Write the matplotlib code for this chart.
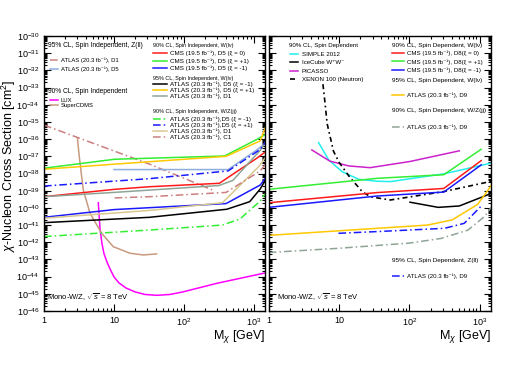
import numpy as np
import matplotlib
matplotlib.use("Agg")
import matplotlib.pyplot as plt
from matplotlib import ticker
from matplotlib.legend import Legend

plt.rcParams['font.family'] = ['Liberation Sans', 'DejaVu Sans']
plt.rcParams['mathtext.fontset'] = 'custom'
plt.rcParams['mathtext.rm'] = 'Liberation Sans'
plt.rcParams['mathtext.it'] = 'Liberation Sans:italic'

# ---- spin independent (left panel): mass [GeV], log10(sigma [cm^2]) ----
si_zll_d1_m = [1, 32, 257]
si_zll_d1_s = [-35.18, -37.45, -38.96]
si_zll_d5_m = [10, 427, 1100, 1500]
si_zll_d5_s = [-37.77, -37.77, -36.63, -36.2]

lux_m = [5.97, 6.31, 6.74, 7.2, 7.94, 8.77, 10.0, 11.8, 14.8, 19.95, 27.7, 41.1, 63.1, 96.8, 296, 1436]
lux_s = [-39.70, -41.22, -42.09, -42.67, -43.15, -43.55, -44.02, -44.37, -44.66, -44.89,
         -45.04, -45.09, -45.04, -44.89, -44.39, -43.79]
cdms_m = [3.0, 3.19, 3.64, 4.54, 5.36, 6.67, 9.77, 16.9, 26.2, 40.7]
cdms_s = [-35.95, -37.02, -38.96, -40.31, -40.82, -41.48, -42.26, -42.64, -42.74, -42.68]

cms_d5_red_m = [1, 10.2, 32, 320, 1100, 1500]
cms_d5_red_s = [-39.35, -38.92, -38.77, -38.57, -37.11, -36.7]
cms_d5_grn_m = [1, 10.2, 380, 1120, 1500]
cms_d5_grn_s = [-37.69, -37.17, -36.98, -36.0, -35.7]
cms_d5_blu_m = [1, 10, 400, 1230, 1500]
cms_d5_blu_s = [-40.55, -40.1, -39.75, -38.67, -38.2]

atl_d5_blk_m = [1, 32, 410, 870, 1230, 1500]
atl_d5_blk_s = [-40.86, -40.55, -40.08, -39.64, -38.9, -38.3]
atl_d5_gld_m = [1, 10.7, 400, 1230, 1500]
atl_d5_gld_s = [-37.75, -37.45, -37.0, -36.1, -35.2]
atl_d1_gry_m = [1, 10, 316, 500, 1230, 1500]
atl_d1_gry_s = [-39.35, -39.1, -38.7, -38.4, -36.65, -36.1]

jj_d5_grn_m = [1, 32, 355, 630, 1230, 1500]
jj_d5_grn_s = [-41.67, -41.29, -41.0, -40.65, -39.6, -39.1]
jj_d5_blu_m = [1, 32, 427, 1230, 1500]
jj_d5_blu_s = [-38.73, -38.3, -37.85, -36.6, -36.1]
jj_d1_m = [1, 32, 355, 1170, 1500]
jj_d1_s = [-40.6, -40.15, -39.7, -37.6, -37.0]
jj_c1_m = [10.2, 32, 400, 1230, 1500]
jj_c1_s = [-39.42, -39.35, -39.1, -37.85, -37.4]

# ---- spin dependent (right panel) ----
simple_m = [5.1, 7.13, 11.0, 19.1, 34.7, 53.7, 309, 1550]
simple_s = [-36.2, -37.21, -37.89, -38.34, -38.45, -38.47, -38.02, -37.37]
icecube_m = [102, 257, 513, 1480]
icecube_s = [-39.67, -39.97, -39.89, -39.15]
picasso_m = [4.1, 7.4, 13.8, 27.5, 102, 513]
picasso_s = [-36.63, -37.28, -37.56, -37.66, -37.3, -36.68]
xenon_m = [5.89, 6.31, 6.76, 8.32, 10, 14.1, 21.4, 28.2, 53.7, 309, 1480]
xenon_s = [-32.8, -33.9, -35.1, -36.7, -37.35, -38.2, -39.06, -39.36, -39.54, -39.05, -38.45]

cms_d8_m = [1, 34.7, 309, 1050]
cms_d8_grn_s = [-38.92, -38.28, -38.07, -36.59]
cms_d8_red_s = [-39.70, -39.11, -38.87, -37.25]
cms_d8_blu_s = [-39.97, -39.31, -39.08, -37.5]

atl_d9_lv_m = [1, 34.7, 182, 407, 933, 1380, 1500]
atl_d9_lv_s = [-41.6, -41.19, -41.0, -40.7, -39.8, -38.85, -38.6]
atl_d9_jj_m = [1, 10, 100, 282, 676, 1175, 1500]
atl_d9_jj_s = [-42.6, -42.35, -42.05, -41.78, -41.3, -40.5, -39.9]
atl_d9_zll_m = [9.8, 34.7, 316, 603, 1050]
atl_d9_zll_s = [-41.48, -41.38, -41.19, -40.9, -39.9]

xtick_labels = {1: '1', 10: '10', 100: '$10^{2}$', 1000: '$10^{3}$'}

RED, GRN, BLU = '#ff1a1a', '#33ee33', '#1a1aff'
GOLD, GREY, KHAKI = '#ffc800', '#8ea596', '#d8c890'
ROSY, LBLUE, TAN = '#cc7f7f', '#8eaede', '#c89a7e'
DD = (0, (5, 2, 1, 2))
LW = 1.1


def curve(ax, m, s, color, ls='-', lw=LW):
    return ax.plot(m, 10.0 ** np.array(s), color=color, ls=ls, lw=lw)[0]


def title(ax, x, y, txt, fs):
    ax.text(x, y, txt, transform=ax.transAxes, fontsize=fs, va='center', ha='left')


def legend(ax, handles, labels, x, y, fs, hl, sp):
    leg = Legend(ax, handles, labels, loc='upper left', bbox_to_anchor=(x, y),
                 frameon=False, fontsize=fs, handlelength=hl, handletextpad=0.5,
                 labelspacing=sp, borderpad=0, borderaxespad=0)
    ax.add_artist(leg)


def style(ax):
    ax.set_xscale('log')
    ax.set_yscale('log')
    ax.set_xlim(1, 1450)
    ax.set_ylim(1e-46, 1e-30)
    ax.yaxis.set_major_locator(ticker.LogLocator(base=10, numticks=40))
    ax.yaxis.set_minor_locator(ticker.LogLocator(base=10, subs=np.arange(2, 10) * 1.0, numticks=400))
    ax.xaxis.set_major_locator(ticker.FixedLocator([1, 10, 100, 1000]))
    ax.xaxis.set_minor_locator(ticker.LogLocator(base=10, subs=np.arange(2, 10) * 1.0, numticks=100))
    ax.xaxis.set_major_formatter(ticker.FuncFormatter(lambda v, p: xtick_labels.get(int(round(v)), '')))
    ax.xaxis.set_minor_formatter(ticker.NullFormatter())
    ax.tick_params(which='both', direction='in', top=True, right=True, labelsize=6.5, width=0.8)
    ax.tick_params(which='major', length=5)
    ax.tick_params(which='minor', length=2.5)
    for sp in ax.spines.values():
        sp.set_linewidth(1.0)
    ax.set_xlabel(r'M$_\chi$ [GeV]', fontsize=9, loc='right', labelpad=0)


fig = plt.figure(figsize=(5.12, 3.68), dpi=100)
axl = fig.add_axes([0.086, 0.155, 0.432, 0.747])
axr = fig.add_axes([0.525, 0.155, 0.434, 0.747])
style(axl)
style(axr)
axr.tick_params(labelleft=False)
axl.set_ylabel(r'$\chi$-Nucleon Cross Section [cm$^2$]', fontsize=9)
axl.yaxis.set_label_coords(-0.118, 0.53)

# left panel curves
h_zd1 = curve(axl, si_zll_d1_m, si_zll_d1_s, ROSY, DD)
h_zd5 = curve(axl, si_zll_d5_m, si_zll_d5_s, LBLUE)
h_lux = curve(axl, lux_m, lux_s, '#ff00ff')
h_cdms = curve(axl, cdms_m, cdms_s, TAN)
h_cr = curve(axl, cms_d5_red_m, cms_d5_red_s, RED)
h_cg = curve(axl, cms_d5_grn_m, cms_d5_grn_s, GRN)
h_cb = curve(axl, cms_d5_blu_m, cms_d5_blu_s, BLU)
h_ak = curve(axl, atl_d5_blk_m, atl_d5_blk_s, 'black')
h_ay = curve(axl, atl_d5_gld_m, atl_d5_gld_s, GOLD)
h_ag = curve(axl, atl_d1_gry_m, atl_d1_gry_s, GREY)
h_jg = curve(axl, jj_d5_grn_m, jj_d5_grn_s, GRN, DD)
h_jb = curve(axl, jj_d5_blu_m, jj_d5_blu_s, BLU, DD)
h_jd1 = curve(axl, jj_d1_m, jj_d1_s, KHAKI)
h_jc1 = curve(axl, jj_c1_m, jj_c1_s, ROSY, DD)

title(axl, 0.018, 0.964, '95% CL, Spin Independent, Z(ll)', 4.8)
legend(axl, [h_zd1, h_zd5], ['ATLAS (20.3 fb⁻¹), D1', 'ATLAS (20.3 fb⁻¹), D5'],
       0.027, 0.922, 4.2, 1.3, 0.57)
title(axl, 0.018, 0.80, '90% CL, Spin Independent', 4.8)
legend(axl, [h_lux, h_cdms], ['LUX', 'SuperCDMS'], 0.027, 0.776, 4.2, 1.3, 0.05)
title(axl, 0.493, 0.964, '90% CL, Spin Independent, W(lν)', 3.9)
legend(axl, [h_cr, h_cg, h_cb],
       ['CMS (19.5 fb⁻¹), D5 (ξ = 0)', 'CMS (19.5 fb⁻¹), D5 (ξ = +1)', 'CMS (19.5 fb⁻¹), D5 (ξ = -1)'],
       0.493, 0.946, 4.5, 2.2, 0.3)
title(axl, 0.493, 0.847, '95% CL, Spin Independent, W(lν)', 3.9)
legend(axl, [h_ak, h_ay, h_ag],
       ['ATLAS (20.3 fb⁻¹), D5 (ξ = -1)', 'ATLAS (20.3 fb⁻¹), D5 (ξ = +1)', 'ATLAS (20.3 fb⁻¹), D1'],
       0.493, 0.835, 4.5, 2.2, 0.08)
title(axl, 0.493, 0.727, '90% CL, Spin Independent, W/Z(jj)', 3.9)
legend(axl, [h_jg, h_jb, h_jd1, h_jc1],
       ['ATLAS (20.3 fb⁻¹),D5 (ξ = -1)', 'ATLAS (20.3 fb⁻¹),D5 (ξ = +1)',
        'ATLAS (20.3 fb⁻¹), D1', 'ATLAS (20.3 fb⁻¹), C1'], 0.493, 0.708, 4.5, 2.2, 0.08)
axl.text(0.015, 0.05, r'Mono-W/Z, $\sqrt{s}$ = 8 TeV', transform=axl.transAxes, fontsize=5.5, va='center')

# right panel curves
h_simple = curve(axr, simple_m, simple_s, '#22eeee')
h_ice = curve(axr, icecube_m, icecube_s, 'black')
h_pic = curve(axr, picasso_m, picasso_s, '#cc22cc')
h_xen = curve(axr, xenon_m, xenon_s, 'black', (0, (3, 2, 1, 2)), 1.2)
h_dr = curve(axr, cms_d8_m, cms_d8_red_s, RED)
h_dg = curve(axr, cms_d8_m, cms_d8_grn_s, GRN)
h_db = curve(axr, cms_d8_m, cms_d8_blu_s, BLU)
h_d9lv = curve(axr, atl_d9_lv_m, atl_d9_lv_s, GOLD)
h_d9jj = curve(axr, atl_d9_jj_m, atl_d9_jj_s, GREY, DD)
h_d9z = curve(axr, atl_d9_zll_m, atl_d9_zll_s, BLU, DD)

title(axr, 0.09, 0.967, '90% CL, Spin Dependent', 4.4)
legend(axr, [h_simple, h_ice, h_pic, h_xen],
       ['SIMPLE 2012', 'IceCube W⁺W⁻', 'PICASSO', 'XENON 100 (Neutron)'],
       0.095, 0.944, 4.4, 1.4, 0.54)
title(axr, 0.554, 0.967, '90% CL, Spin Dependent, W(lν)', 4.6)
legend(axr, [h_dr, h_dg, h_db],
       ['CMS (19.5 fb⁻¹), D8(ξ = 0)', 'CMS (19.5 fb⁻¹), D8(ξ = +1)', 'CMS (19.5 fb⁻¹), D8(ξ = -1)'],
       0.554, 0.947, 4.4, 1.9, 0.49)
title(axr, 0.554, 0.84, '95% CL, Spin Dependent, W(lν)', 4.6)
legend(axr, [h_d9lv], ['ATLAS (20.3 fb⁻¹), D9'], 0.554, 0.795, 4.4, 1.9, 0.1)
title(axr, 0.554, 0.731, '90% CL, Spin Dependent, W/Z(jj)', 4.6)
legend(axr, [h_d9jj], ['ATLAS (20.3 fb⁻¹), D9'], 0.554, 0.677, 4.4, 1.9, 0.1)
title(axr, 0.554, 0.185, '95% CL, Spin Dependent, Z(ll)', 4.6)
legend(axr, [h_d9z], ['ATLAS (20.3 fb⁻¹), D9'], 0.554, 0.136, 4.4, 1.9, 0.1)
axr.text(0.036, 0.05, r'Mono-W/Z, $\sqrt{s}$ = 8 TeV', transform=axr.transAxes, fontsize=5.5, va='center')

fig.savefig('out.png', dpi=100)
